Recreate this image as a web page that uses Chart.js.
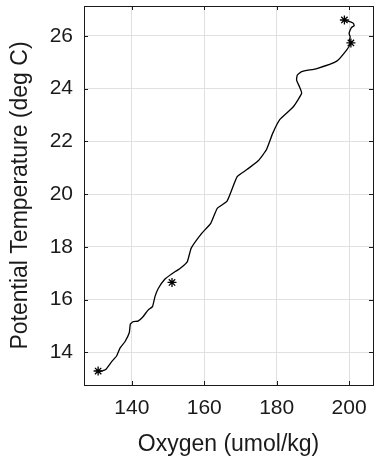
<!DOCTYPE html>
<html>
<head>
<meta charset="utf-8">
<script src="https://cdn.jsdelivr.net/npm/chart.js@4/dist/chart.umd.min.js"></script>
<style>
  html, body { margin: 0; padding: 0; background: #fff; }
  canvas { display: block; }
</style>
</head>
<body>
<canvas id="chart" width="375" height="464"></canvas>
<script>
// Profil CTD (du fond vers la surface)
const oxygen = [131.2, 132.8, 134.4, 135.8, 136.7, 138.1, 139.3, 139.6, 140.4, 141.7,
    143.1, 144.5, 145.7, 146.4, 147.3, 149.1, 151.0, 153.3, 155.3, 156.4,
    159.3, 161.8, 163.6, 166.3, 169.1, 171.9, 174.9, 177.2, 178.9, 180.9,
    184.6, 186.9, 186.3, 185.5, 185.7, 186.9, 191.1, 196.6, 199.3, 200.5,
    200.1, 200.3, 200.0, 200.3, 200.7, 201.4, 201.2, 200.4, 199.4, 198.7];
const temperature = [13.27, 13.35, 13.64, 13.86, 14.15, 14.40, 14.74, 15.07, 15.16, 15.18,
    15.35, 15.60, 15.73, 16.11, 16.42, 16.77, 16.97, 17.18, 17.43, 17.95,
    18.51, 18.89, 19.46, 19.73, 20.66, 20.94, 21.26, 21.69, 22.30, 22.83,
    23.31, 23.82, 24.07, 24.32, 24.51, 24.64, 24.76, 25.04, 25.46, 25.73,
    25.84, 25.96, 26.09, 26.22, 26.32, 26.38, 26.47, 26.53, 26.57, 26.60];

// Echantillons bouteilles
const bottleOxygen = [130.7, 151.1, 200.5, 198.7];
const bottleTemp = [13.29, 16.65, 25.73, 26.60];

// Graduations
const xTicks = [140, 160, 180, 200];
const yTicks = [14, 16, 18, 20, 22, 24, 26];

const textColor = '#1a1a1a';
const fontFamily = '"Liberation Sans", Arial, Helvetica, sans-serif';

// Cadre + graduations internes (style MATLAB)
const boxPlugin = {
    id: 'boxPlugin',
    afterDraw(chart) {
        const { ctx, chartArea: a, scales } = chart;
        const len = 4;
        ctx.save();
        ctx.strokeStyle = textColor;
        ctx.lineWidth = 1;
        ctx.beginPath();
        xTicks.forEach(v => {
            const px = Math.round(scales.x.getPixelForValue(v)) + 0.5;
            ctx.moveTo(px, a.bottom); ctx.lineTo(px, a.bottom - len);
            ctx.moveTo(px, a.top); ctx.lineTo(px, a.top + len);
        });
        yTicks.forEach(v => {
            const py = Math.round(scales.y.getPixelForValue(v)) + 0.5;
            ctx.moveTo(a.left, py); ctx.lineTo(a.left + len, py);
            ctx.moveTo(a.right, py); ctx.lineTo(a.right - len, py);
        });
        ctx.stroke();
        ctx.strokeRect(Math.round(a.left) + 0.5, Math.round(a.top) + 0.5,
            Math.round(a.right - a.left), Math.round(a.bottom - a.top));
        ctx.restore();
    }
};

function fixeAxe(size) {
    return function (scale) {
        if (scale.isHorizontal()) scale.height = size; else scale.width = size;
        scale.paddingTop = 0; scale.paddingBottom = 0;
        scale.paddingLeft = 0; scale.paddingRight = 0;
    };
}

new Chart(document.getElementById('chart'), {
    type: 'line',
    data: {
        datasets: [
            {
                label: 'Profil',
                data: oxygen.map((o, i) => ({ x: o, y: temperature[i] })),
                borderColor: '#000',
                borderWidth: 1.3,
                pointRadius: 0,
                tension: 0.15,
                fill: false
            },
            {
                label: 'Bouteilles',
                data: bottleOxygen.map((o, i) => ({ x: o, y: bottleTemp[i] })),
                showLine: false,
                pointStyle: 'star',
                pointRadius: 4.5,
                pointBorderWidth: 1.3,
                borderColor: '#000',
                backgroundColor: '#000'
            }
        ]
    },
    options: {
        responsive: false,
        devicePixelRatio: 1,
        animation: false,
        layout: { autoPadding: false, padding: { top: 6, right: 2, left: 0, bottom: 0 } },
        plugins: { legend: { display: false }, tooltip: { enabled: false } },
        scales: {
            x: {
                type: 'linear',
                min: 126.8,
                max: 206.6,
                afterBuildTicks: s => { s.ticks = xTicks.map(v => ({ value: v })); },
                afterFit: fixeAxe(79),
                grid: { color: '#e0e0e0', drawTicks: false },
                border: { display: false },
                ticks: { color: textColor, padding: 11, font: { family: fontFamily, size: 21 } },
                title: {
                    display: true,
                    text: 'Oxygen (umol/kg)',
                    color: textColor,
                    font: { family: fontFamily, size: 23 },
                    padding: { top: 0, bottom: 6 }
                }
            },
            y: {
                type: 'linear',
                min: 12.76,
                max: 27.13,
                afterBuildTicks: s => { s.ticks = yTicks.map(v => ({ value: v })); },
                afterFit: fixeAxe(84),
                grid: { color: '#e0e0e0', drawTicks: false },
                border: { display: false },
                ticks: { color: textColor, padding: 11, font: { family: fontFamily, size: 21 } },
                title: {
                    display: true,
                    text: 'Potential Temperature (deg C)',
                    color: textColor,
                    font: { family: fontFamily, size: 23 },
                    padding: { top: 7, bottom: 0 }
                }
            }
        }
    },
    plugins: [boxPlugin]
});
</script>
</body>
</html>
